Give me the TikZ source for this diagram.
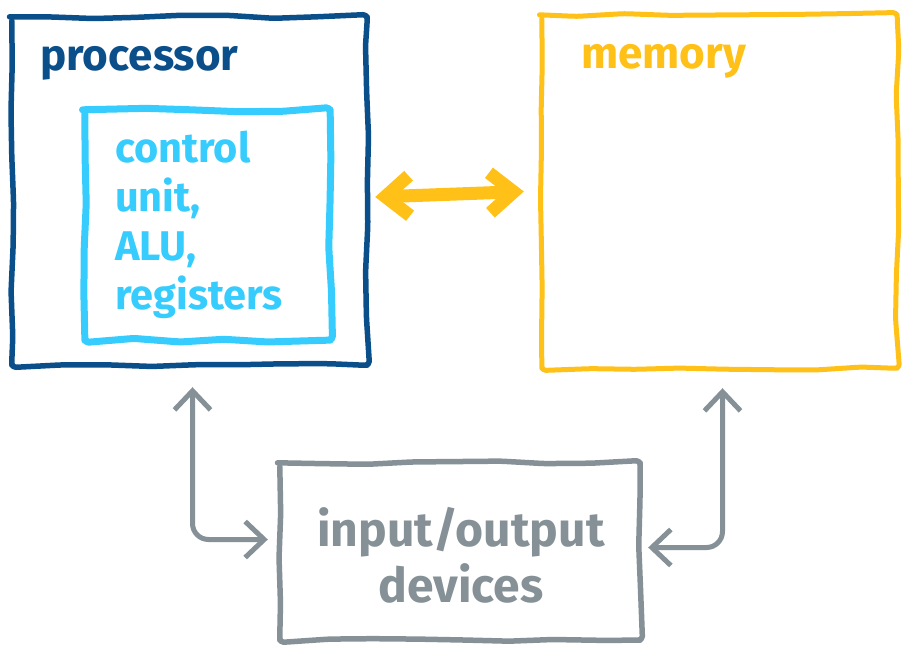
\documentclass[tikz,border=0pt]{standalone}
\usepackage{fontspec}
\setmainfont{Fira Sans}
\usetikzlibrary{arrows.meta,calc,decorations.pathmorphing}
\definecolor{procblue}{HTML}{0B4F8A}
\definecolor{cpublue}{HTML}{36CCFD}
\definecolor{memyellow}{HTML}{FFC117}
\definecolor{iogray}{HTML}{859196}
\begin{document}
\pgfmathsetseed{7}
\begin{tikzpicture}[x=1pt,y=-1pt,
  box/.style={draw=none,inner sep=0pt,minimum width=#1},
  sketch/.style={decorate,decoration={random steps,segment length=45pt,amplitude=1.8pt},rounded corners=4pt,line cap=round,line join=round},
  title/.style={font=\bfseries\fontsize{44}{50}\selectfont,anchor=base west,inner sep=0pt},
  yarrow/.style={draw=memyellow,line width=13pt,line cap=round,line join=round,{Straight Barb[length=24pt,width=40pt]}-{Straight Barb[length=24pt,width=40pt]}},
  garrow/.style={draw=iogray,line width=5pt,line cap=round,rounded corners=16pt,{Straight Barb[length=19pt,width=36pt]}-{Straight Barb[length=19pt,width=36pt]}}]
\fill[white] (0,0) rectangle (919,657);
\useasboundingbox (0,0) rectangle (919,657);
% boxes
\node[box=355pt,minimum height=348pt] (proc) at (189.5,191) {};
\node[box=245pt,minimum height=230pt] (cpu) at (207.5,225) {};
\node[box=355pt,minimum height=353pt] (mem) at (719.5,191.5) {};
\node[box=360pt,minimum height=177pt] (io) at (460,551.5) {};
\draw[sketch,procblue,line width=5.5pt] (proc.north west) rectangle (proc.south east);
\draw[sketch,cpublue,line width=7pt] (cpu.north west) rectangle (cpu.south east);
\draw[sketch,memyellow,line width=5pt] (mem.north west) rectangle (mem.south east);
\draw[sketch,iogray,line width=5.5pt] (io.north west) rectangle (io.south east);
% texts
\node[title,text=procblue] (proct) at (40,70) {processor};
\node[title,text=memyellow] (memt) at (581,68) {memory};
\node[text=cpublue,font=\bfseries\fontsize{41.5}{49}\selectfont,align=left,anchor=north west,inner sep=0pt] (cput) at (115,131) {control\\unit,\\ALU,\\registers};
\node[text=iogray,font=\bfseries\fontsize{48}{56}\selectfont,align=center,inner sep=0pt] (iot) at (461,555) {input/output\\devices};
% connectors
\draw[yarrow] ($(proc.east)+(8,6)$) -- ($(mem.west)+(-18,0)$);
\draw[garrow] ($(proc.south)+(3,22)$) |- ($(io.west)+(-12,-12)$);
\draw[garrow] ($(mem.south)+(3,20)$) |- ($(io.east)+(8,-4)$);
\end{tikzpicture}
\end{document}
